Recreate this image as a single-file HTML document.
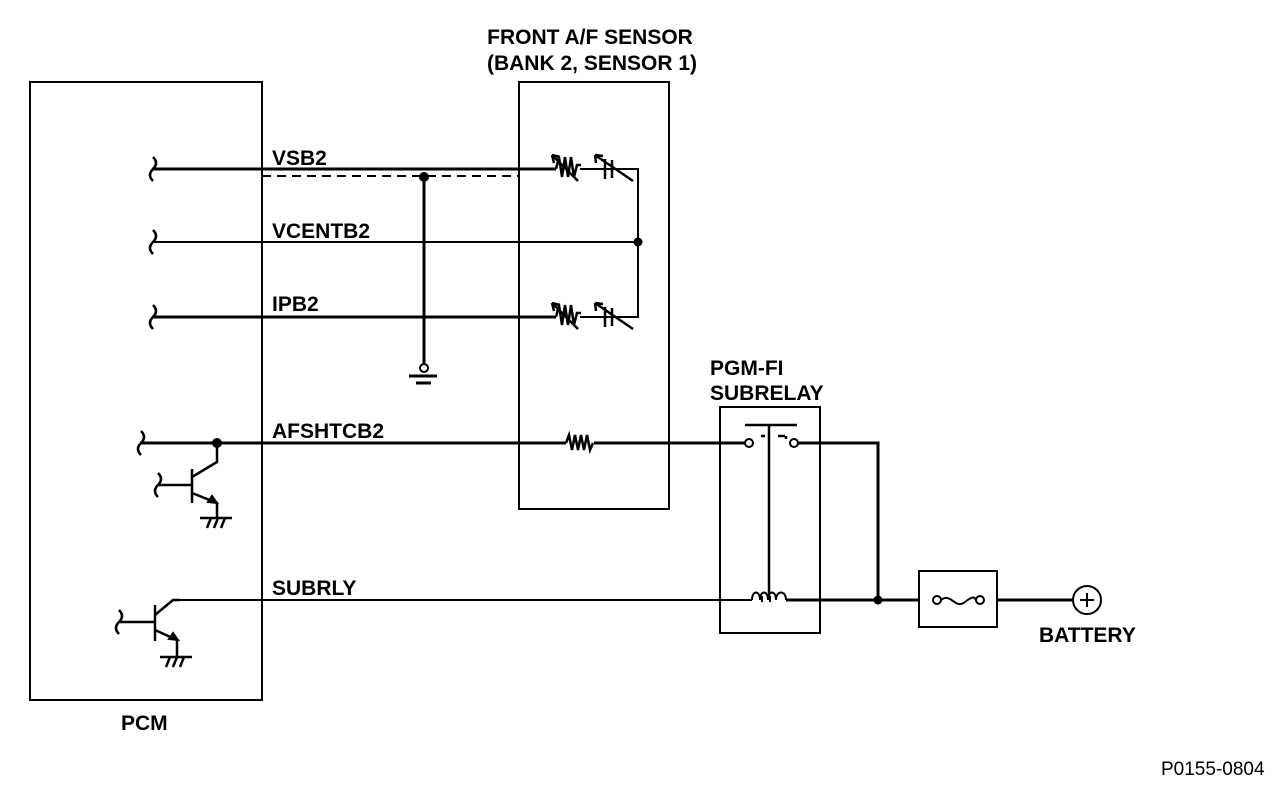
<!DOCTYPE html>
<html><head><style>
body{margin:0;background:#fff}
svg{display:block}
text{font-family:"Liberation Sans",Arial,sans-serif;font-weight:bold;font-size:21px;fill:#000}
</style></head><body>
<svg width="1280" height="786" viewBox="0 0 1280 786" xmlns="http://www.w3.org/2000/svg">
<g fill="none" stroke="#000" stroke-width="2">
<rect x="30" y="82" width="232" height="618"/>
<rect x="519" y="82" width="150" height="427"/>
<rect x="720" y="407" width="100" height="226"/>
<rect x="919" y="571" width="78" height="56"/>
<circle cx="1087" cy="600" r="14"/>
<path d="M1080 600h14M1087 593v14"/>
<!-- squiggles -->
<path d="M153 157q6 6 0 12q-6 6 0 12M153 230q6 6 0 12q-6 6 0 12M153 305q6 6 0 12q-6 6 0 12M141 431q6 6 0 12q-6 6 0 12M158 473q6 6 0 12q-6 6 0 12M119 610q6 6 0 12q-6 6 0 12" stroke-width="2.5"/>
</g>
<g fill="none" stroke="#000" stroke-width="3">
<path d="M152 169H556"/>
<path d="M152 317H556"/>
<path d="M140 443H566"/>
<path d="M594 443H745"/>
<path d="M798 443H878V600"/>
<path d="M786 600H919"/>
<path d="M997 600H1073"/>
<path d="M424 177V364"/>
</g>
<g fill="none" stroke="#000" stroke-width="2">
<path d="M262 176H519" stroke-dasharray="9,6"/>
<path d="M152 242H638"/>
<path d="M580 169H638V317H580"/>
<path d="M175 600H752"/>
<path d="M556 169l3-12 3 20 3-20 3 20 3-20 3 20 3-12 4 0" stroke-width="2.5"/>
<path d="M552 155l26 26M552 155l8 2M552 155l2 8" stroke-width="2.5"/>
<path d="M556 317l3-12 3 20 3-20 3 20 3-20 3 20 3-12 4 0" stroke-width="2.5"/>
<path d="M552 303l26 26M552 303l8 2M552 303l2 8" stroke-width="2.5"/>
<path d="M605 159v20M612 160v18M595 155l38 26M595 155l8 1M595 155l1 8" stroke-width="2.5"/>
<path d="M605 307v20M612 308v18M595 303l38 26M595 303l8 1M595 303l1 8" stroke-width="2.5"/>
<path d="M566 443l3-8 3 15 3-15 3 15 3-15 3 15 3-15 3 15 3-7" stroke-width="2.5"/>
<circle cx="424" cy="368" r="4"/>
<path d="M409 376h28M416 383h15" stroke-width="3"/>
<path d="M159 485H192M192 469V503M192 477L217 462V443M192 493L217 503V518M200 518h32M207 528l4-10M214 528l4-10M221 528l4-10" stroke-width="2.5"/>
<path d="M217 503l-9-1 4-6z" fill="#000"/>
<path d="M120 622H155M155 605V641M155 615L173 600H180M155 630L177 640V657M160 657h32M166 667l4-10M173 667l4-10M180 667l4-10" stroke-width="2.5"/>
<path d="M178 640l-9-1 4-6z" fill="#000"/>
<circle cx="749" cy="443" r="4"/>
<circle cx="794" cy="443" r="4"/>
<path d="M745 425h52M769 425v172M761 436h4M778 436h7M786 436v3" stroke-width="2.5"/>
<path d="M752 600c0-10 8-10 8 0M760 600c0-10 8-10 8 0M768 600c0-10 8-10 8 0M776 600c0-10 10-10 10 0"/>
<path d="M762 596v6M770 596v6"/>
<circle cx="937" cy="600" r="4"/>
<circle cx="980" cy="600" r="4"/>
<path d="M941 600c10-8 14 10 24 2s10-3 11-2"/>
</g>
<g fill="#000">
<circle cx="424" cy="177" r="5"/>
<circle cx="638" cy="242" r="4.5"/>
<circle cx="217" cy="443" r="5"/>
<circle cx="878" cy="600" r="4.5"/>
</g>
<text x="272" y="165">VSB2</text>
<text x="272" y="238">VCENTB2</text>
<text x="272" y="311">IPB2</text>
<text x="272" y="438">AFSHTCB2</text>
<text x="272" y="595">SUBRLY</text>
<text x="590" y="44" text-anchor="middle">FRONT A/F SENSOR</text>
<text x="592" y="70" text-anchor="middle">(BANK 2, SENSOR 1)</text>
<text x="710" y="375">PGM-FI</text>
<text x="710" y="400">SUBRELAY</text>
<text x="1039" y="642">BATTERY</text>
<text x="121" y="730">PCM</text>
<text x="1161" y="775" style="font-weight:normal;font-size:19px">P0155-0804</text>
</svg>
</body></html>
